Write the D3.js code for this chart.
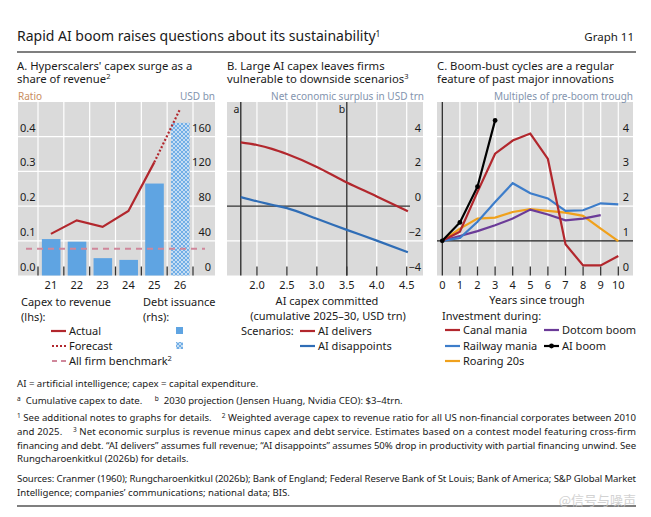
<!DOCTYPE html>
<html>
<head>
<meta charset="utf-8">
<script src="https://cdn.jsdelivr.net/npm/d3@7"></script>
<style>
  body { margin: 0; background: #fff; }
  svg { font-family: "Noto Sans", sans-serif; }
</style>
</head>
<body>
<div id="chart"></div>
<script>
// ---- panel A data: hyperscalers' capex
const yearsA = ['21', '22', '23', '24', '25', '26'];
const debtIssuance = [42, 39, 20, 18, 106, 176];        // USD bn (rhs), 26 = forecast
const capexActual = [0.12, 0.159, 0.14, 0.186, 0.326];   // ratio (lhs), 21-25
const forecastYears = ['25', '26'];
const capexForecast = [0.326, 0.48];
const benchmark = 0.077;
const ticksLeftA = [0, 0.1, 0.2, 0.3, 0.4];
const ticksRightA = [0, 40, 80, 120, 160];

// ---- panel B data: net economic surplus
const capexCommitted = [1.73, 2.0, 2.25, 2.5, 3.0, 3.5, 4.0, 4.52];
const aiDelivers = [3.67, 3.52, 3.3, 3.0, 2.26, 1.36, 0.56, -0.3];
const aiDisappoints = [0.52, 0.28, 0.08, -0.12, -0.73, -1.37, -1.99, -2.66];
const markA = 1.73, markB = 3.5;
const ticksXB = [2.0, 2.5, 3.0, 3.5, 4.0, 4.5];
const ticksYB = [-4, -2, 0, 2, 4];

// ---- panel C data: multiples of pre-boom trough
const yearsC = [0, 1, 2, 3, 4, 5, 6, 7, 8, 9, 10];
const canalMania = [1, 1.26, 2.41, 3.51, 3.89, 4.09, 3.36, 0.9, 0.29, 0.29, 0.56];
const railwayMania = [1, 1.08, 1.55, 2.12, 2.66, 2.37, 2.22, 1.86, 1.88, 2.08, 2.05];
const roaring20s = [1, 1.35, 1.64, 1.67, 1.83, 1.91, 1.86, 1.81, 1.72, 1.35, 0.99];
const dotcomBoom = [1, 1.14, 1.28, 1.45, 1.64, 1.9, 1.76, 1.59, 1.64, 1.74];
const aiBoom = [1, 1.53, 2.56, 4.47];
const ticksYC = [0, 1, 2, 3, 4];

const red = '#b2272d', barBlue = '#5fa4e2', bg = '#dadada';
const unitGrey = '#8394ae';
const fsPanel = 11;   // legend / axis text

const W = 651, H = 517;
const plotTop = 102, plotBottom = 275.5;

const svg = d3.select('#chart').append('svg')
  .attr('width', W).attr('height', H);

svg.append('rect').attr('width', W).attr('height', H).attr('fill', '#fff');

// pattern for forecast bar
const defs = svg.append('defs');
const pat = defs.append('pattern').attr('id', 'dots')
  .attr('width', 4).attr('height', 4).attr('patternUnits', 'userSpaceOnUse');
pat.append('rect').attr('width', 4).attr('height', 4).attr('fill', '#6fade6');
[[0, 0], [4, 0], [0, 4], [4, 4], [2, 2]].forEach(([x, y]) => {
  pat.append('circle').attr('cx', x).attr('cy', y).attr('r', 1.1).attr('fill', '#dbe9f7');
});

// helper for text
function txt(g, x, y, s, opts = {}) {
  return g.append('text').attr('x', x).attr('y', y)
    .attr('font-size', opts.size || fsPanel)
    .attr('fill', opts.fill || '#1a1a1a')
    .attr('text-anchor', opts.anchor || 'start')
    .text(s);
}
function sup(t, s, size) {
  t.append('tspan').attr('dy', -4).attr('font-size', size || 7.5).text(s);
}

// ---- header
const title = txt(svg, 17, 41, 'Rapid AI boom raises questions about its sustainability', { size: 14 });
sup(title, '1', 8.5);
txt(svg, 634, 41, 'Graph 11', { size: 11.5, anchor: 'end' });
svg.append('line').attr('x1', 17).attr('x2', 636).attr('y1', 52).attr('y2', 52)
  .attr('stroke', '#000').attr('stroke-width', 1.2);

// panel titles
const fsTitle = 11.3;
txt(svg, 17, 70, "A. Hyperscalers' capex surge as a", { size: fsTitle });
sup(txt(svg, 17, 83, 'share of revenue', { size: fsTitle }), '2');
txt(svg, 227, 70, 'B. Large AI capex leaves firms', { size: fsTitle });
sup(txt(svg, 227, 83, 'vulnerable to downside scenarios', { size: fsTitle }), '3');
txt(svg, 437, 70, 'C. Boom-bust cycles are a regular', { size: fsTitle });
txt(svg, 437, 83, 'feature of past major innovations', { size: fsTitle });

// ================= PANEL A =================
const gA = svg.append('g');
const ax0 = 18, ax1 = 215;
gA.append('rect').attr('x', ax0).attr('y', plotTop).attr('width', ax1 - ax0).attr('height', plotBottom - plotTop).attr('fill', bg);

const xA = d3.scaleBand().domain(yearsA).range([38, 193]).padding(0);
const yL = d3.scaleLinear().domain([0, 0.5]).range([plotBottom, plotTop]);
const yR = d3.scaleLinear().domain([0, 200]).range([plotBottom, plotTop]);

// grid
gA.selectAll('.hg').data(ticksLeftA.slice(1)).join('line')
  .attr('x1', ax0).attr('x2', ax1).attr('y1', d => yL(d)).attr('y2', d => yL(d))
  .attr('stroke', '#fff').attr('stroke-width', 1.2);
const binEdges = yearsA.map(d => xA(d)).concat([xA.range()[1]]);
gA.selectAll('.vg').data(binEdges).join('line')
  .attr('x1', d => d).attr('x2', d => d).attr('y1', plotTop).attr('y2', plotBottom)
  .attr('stroke', '#fff').attr('stroke-width', 1.2);

// bars
gA.selectAll('.bar').data(yearsA).join('rect')
  .attr('x', d => xA(d) + xA.bandwidth() * 0.15)
  .attr('width', xA.bandwidth() * 0.72)
  .attr('y', (d, i) => yR(debtIssuance[i]))
  .attr('height', (d, i) => plotBottom - yR(debtIssuance[i]))
  .attr('fill', (d, i) => i === yearsA.length - 1 ? 'url(#dots)' : barBlue);

// benchmark
gA.append('line').attr('x1', 26).attr('x2', 205)
  .attr('y1', yL(benchmark)).attr('y2', yL(benchmark))
  .attr('stroke', '#d0879b').attr('stroke-width', 2).attr('stroke-dasharray', '6,5');

const cx = d => xA(d) + xA.bandwidth() / 2;
const lineA = d3.line().x(d => cx(d[0])).y(d => yL(d[1]));
gA.append('path').attr('d', lineA(yearsA.slice(0, 5).map((d, i) => [d, capexActual[i]])))
  .attr('fill', 'none').attr('stroke', red).attr('stroke-width', 2.2);
gA.append('path').attr('d', lineA(forecastYears.map((d, i) => [d, capexForecast[i]])))
  .attr('fill', 'none').attr('stroke', red).attr('stroke-width', 2.2).attr('stroke-dasharray', '2,2');

// x ticks
gA.selectAll('.xt').data(binEdges).join('line')
  .attr('x1', d => d).attr('x2', d => d).attr('y1', plotBottom - 9).attr('y2', plotBottom)
  .attr('stroke', '#333').attr('stroke-width', 1.3);
gA.selectAll('.xl').data(yearsA).join('text')
  .attr('x', cx).attr('y', 289).attr('text-anchor', 'middle').attr('font-size', fsPanel)
  .attr('fill', '#1a1a1a').text(d => d);

// y labels
gA.selectAll('.yl').data(ticksLeftA).join('text')
  .attr('x', 20).attr('y', d => yL(d) - 5).attr('font-size', fsPanel).attr('fill', '#1a1a1a')
  .text(d => d3.format('.1f')(d));
gA.selectAll('.yr').data(ticksRightA).join('text')
  .attr('x', 211).attr('y', d => yR(d) - 5).attr('text-anchor', 'end').attr('font-size', fsPanel)
  .attr('fill', '#1a1a1a').text(d => d);
txt(gA, 18, 100, 'Ratio', { size: 10, fill: '#c98d5e' });
txt(gA, 215, 100, 'USD bn', { size: 10, fill: unitGrey, anchor: 'end' });

// legend A
txt(gA, 21, 306, 'Capex to revenue');
txt(gA, 21, 321, '(lhs):');
txt(gA, 143, 306, 'Debt issuance');
txt(gA, 143, 321, '(rhs):');
gA.append('line').attr('x1', 51).attr('x2', 66).attr('y1', 331).attr('y2', 331).attr('stroke', red).attr('stroke-width', 2.2);
txt(gA, 69, 335, 'Actual');
gA.append('line').attr('x1', 52).attr('x2', 66).attr('y1', 346).attr('y2', 346).attr('stroke', red).attr('stroke-width', 2).attr('stroke-dasharray', '2,2');
txt(gA, 69, 350, 'Forecast');
gA.append('line').attr('x1', 52).attr('x2', 66).attr('y1', 361).attr('y2', 361).attr('stroke', '#d0879b').attr('stroke-width', 2).attr('stroke-dasharray', '5,4');
sup(txt(gA, 69, 365, 'All firm benchmark'), '2');
gA.append('rect').attr('x', 176).attr('y', 327).attr('width', 7).attr('height', 7).attr('fill', barBlue);
gA.append('rect').attr('x', 176).attr('y', 342).attr('width', 7).attr('height', 7).attr('fill', 'url(#dots)');

// ================= PANEL B =================
const gB = svg.append('g');
const bx0 = 227, bx1 = 423;
gB.append('rect').attr('x', bx0).attr('y', plotTop).attr('width', bx1 - bx0).attr('height', plotBottom - plotTop).attr('fill', bg);
const xB = d3.scaleLinear().domain([1.5, 4.5]).range([227, 406.7]);
const yB = d3.scaleLinear().domain([-4, 6]).range([plotBottom, plotTop]);

gB.selectAll('.hg').data(ticksYB.filter(d => d !== -4 && d !== 0)).join('line')
  .attr('x1', bx0).attr('x2', bx1).attr('y1', d => yB(d)).attr('y2', d => yB(d))
  .attr('stroke', '#fff').attr('stroke-width', 1.2);
gB.selectAll('.vg').data(ticksXB).join('line')
  .attr('x1', d => xB(d)).attr('x2', d => xB(d)).attr('y1', plotTop).attr('y2', plotBottom)
  .attr('stroke', '#fff').attr('stroke-width', 1.2);
gB.append('line').attr('x1', bx0).attr('x2', 410).attr('y1', yB(0)).attr('y2', yB(0))
  .attr('stroke', '#333').attr('stroke-width', 1.2);
[[markA, 'a'], [markB, 'b']].forEach(([v, l]) => {
  gB.append('line').attr('x1', xB(v)).attr('x2', xB(v)).attr('y1', plotTop).attr('y2', plotBottom)
    .attr('stroke', '#333').attr('stroke-width', 1.4);
  txt(gB, xB(v) - 1.5, 113, l, { anchor: 'end', size: 10.5 });
});

const lineB = d3.line().curve(d3.curveMonotoneX).x(d => xB(d[0])).y(d => yB(d[1]));
gB.append('path').attr('d', lineB(capexCommitted.map((d, i) => [d, aiDelivers[i]])))
  .attr('fill', 'none').attr('stroke', red).attr('stroke-width', 2.2);
gB.append('path').attr('d', lineB(capexCommitted.map((d, i) => [d, aiDisappoints[i]])))
  .attr('fill', 'none').attr('stroke', '#2f6db6').attr('stroke-width', 2.2);

gB.selectAll('.xt').data(ticksXB).join('line')
  .attr('x1', d => xB(d)).attr('x2', d => xB(d)).attr('y1', plotBottom - 9).attr('y2', plotBottom)
  .attr('stroke', '#333').attr('stroke-width', 1.3);
gB.selectAll('.xl').data(ticksXB).join('text')
  .attr('x', d => xB(d)).attr('y', 289).attr('text-anchor', 'middle').attr('font-size', fsPanel)
  .attr('fill', '#1a1a1a').text(d => d3.format('.1f')(d));
gB.selectAll('.yr').data(ticksYB).join('text')
  .attr('x', 421).attr('y', d => yB(d) - 5).attr('text-anchor', 'end').attr('font-size', fsPanel)
  .attr('fill', '#1a1a1a').text(d => d < 0 ? '\u2212' + Math.abs(d) : d);
txt(gB, 424, 100, 'Net economic surplus in USD trn', { size: 10, fill: unitGrey, anchor: 'end' });

txt(gB, 327, 305, 'AI capex committed', { anchor: 'middle' });
txt(gB, 328, 320, '(cumulative 2025\u201330, USD trn)', { anchor: 'middle' });
txt(gB, 241, 335, 'Scenarios:');
gB.append('line').attr('x1', 300).attr('x2', 315).attr('y1', 331).attr('y2', 331).attr('stroke', red).attr('stroke-width', 2.2);
txt(gB, 318, 335, 'AI delivers');
gB.append('line').attr('x1', 300).attr('x2', 315).attr('y1', 346).attr('y2', 346).attr('stroke', '#2f6db6').attr('stroke-width', 2.2);
txt(gB, 318, 350, 'AI disappoints');

// ================= PANEL C =================
const gC = svg.append('g');
const cx0 = 437, cx1 = 633;
gC.append('rect').attr('x', cx0).attr('y', plotTop).attr('width', cx1 - cx0).attr('height', plotBottom - plotTop).attr('fill', bg);
const xC = d3.scaleLinear().domain([0, 10]).range([442.3, 618.3]);
const yC = d3.scaleLinear().domain([0, 5]).range([plotBottom, plotTop]);

gC.selectAll('.hg').data([2, 3, 4]).join('line')
  .attr('x1', cx0).attr('x2', cx1).attr('y1', d => yC(d)).attr('y2', d => yC(d))
  .attr('stroke', '#fff').attr('stroke-width', 1.2);
gC.selectAll('.vg').data(yearsC.slice(1)).join('line')
  .attr('x1', d => xC(d)).attr('x2', d => xC(d)).attr('y1', plotTop).attr('y2', plotBottom)
  .attr('stroke', '#fff').attr('stroke-width', 1.2);
gC.append('line').attr('x1', cx0).attr('x2', cx1).attr('y1', yC(1)).attr('y2', yC(1))
  .attr('stroke', '#222').attr('stroke-width', 1.2);
gC.append('line').attr('x1', xC(0)).attr('x2', xC(0)).attr('y1', plotTop).attr('y2', plotBottom)
  .attr('stroke', '#222').attr('stroke-width', 1.2);

const seriesC = [
  { name: 'Roaring 20s', values: roaring20s, color: '#f0a11c' },
  { name: 'Dotcom boom', values: dotcomBoom, color: '#6b3b98' },
  { name: 'Railway mania', values: railwayMania, color: '#3d7dca' },
  { name: 'Canal mania', values: canalMania, color: red },
  { name: 'AI boom', values: aiBoom, color: '#000' }
];
const lineC = d3.line().x((d, i) => xC(yearsC[i])).y(d => yC(d));
gC.selectAll('.ser').data(seriesC).join('path')
  .attr('d', d => lineC(d.values)).attr('fill', 'none')
  .attr('stroke', d => d.color).attr('stroke-width', 2.2);
gC.selectAll('.dot').data(aiBoom).join('circle')
  .attr('cx', (d, i) => xC(yearsC[i])).attr('cy', d => yC(d)).attr('r', 2.4).attr('fill', '#000');

gC.selectAll('.xt').data(yearsC.slice(1)).join('line')
  .attr('x1', d => xC(d)).attr('x2', d => xC(d)).attr('y1', plotBottom - 9).attr('y2', plotBottom)
  .attr('stroke', '#333').attr('stroke-width', 1.3);
gC.selectAll('.xl').data(yearsC).join('text')
  .attr('x', d => xC(d)).attr('y', 289).attr('text-anchor', 'middle').attr('font-size', fsPanel)
  .attr('fill', '#1a1a1a').text(d => d);
gC.selectAll('.yr').data(ticksYC).join('text')
  .attr('x', 629).attr('y', d => yC(d) - 5).attr('text-anchor', 'end').attr('font-size', fsPanel)
  .attr('fill', '#1a1a1a').text(d => d);
txt(gC, 633, 100, 'Multiples of pre-boom trough', { size: 10, fill: unitGrey, anchor: 'end' });

txt(gC, 537, 304, 'Years since trough', { anchor: 'middle' });
txt(gC, 442, 320, 'Investment during:');
const legC = [
  { name: 'Canal mania', color: red, x: 445, y: 330 },
  { name: 'Dotcom boom', color: '#6b3b98', x: 544, y: 330 },
  { name: 'Railway mania', color: '#3d7dca', x: 445, y: 346 },
  { name: 'AI boom', color: '#000', x: 544, y: 346, dot: true },
  { name: 'Roaring 20s', color: '#f0a11c', x: 445, y: 361 }
];
legC.forEach(d => {
  gC.append('line').attr('x1', d.x).attr('x2', d.x + 15).attr('y1', d.y).attr('y2', d.y)
    .attr('stroke', d.color).attr('stroke-width', 2.2);
  if (d.dot) gC.append('circle').attr('cx', d.x + 7.5).attr('cy', d.y).attr('r', 2.4).attr('fill', '#000');
  txt(gC, d.x + 18, d.y + 4, d.name);
});

// ================= FOOTNOTES =================
const gF = svg.append('g');
const fs = 9.6;
const notes = [
  { y: 387, parts: [['AI = artificial intelligence; capex = capital expenditure.']] },
  { y: 404, parts: [['a', true], ['  Cumulative capex to date.     '], ['b', true], ['  2030 projection (Jensen Huang, Nvidia CEO): $3\u20134trn.']] },
  { y: 421, parts: [['1', true], [' See additional notes to graphs for details.    '], ['2', true], [' Weighted average capex to revenue ratio for all US non-financial corporates between 2010']], just: true },
  { y: 435, parts: [['and 2025.    '], ['3', true], [' Net economic surplus is revenue minus capex and debt service. Estimates based on a contest model featuring cross-firm']], just: true },
  { y: 449, parts: [['financing and debt. \u201cAI delivers\u201d assumes full revenue; \u201cAI disappoints\u201d assumes 50% drop in productivity with partial financing unwind. See']], just: true },
  { y: 462, parts: [['Rungcharoenkitkul (2026b) for details.']] },
  { y: 482, parts: [['Sources: Cranmer (1960); Rungcharoenkitkul (2026b); Bank of England; Federal Reserve Bank of St Louis; Bank of America; S&P Global Market']], just: true },
  { y: 496, parts: [['Intelligence; companies\u2019 communications; national data; BIS.']] }
];
notes.forEach(n => {
  const t = gF.append('text').attr('x', 17).attr('y', n.y).attr('font-size', fs)
    .attr('fill', '#1a1a1a').attr('xml:space', 'preserve');
  let raised = false;
  n.parts.forEach(([s, isSup]) => {
    if (isSup) {
      t.append('tspan').attr('font-size', 6.5).attr('dy', -3).text(s);
      raised = true;
    } else {
      t.append('tspan').attr('dy', raised ? 3 : 0).text(s);
      raised = false;
    }
  });
  if (n.just) t.attr('textLength', 619).attr('lengthAdjust', 'spacing');
});

svg.append('line').attr('x1', 17).attr('x2', 636).attr('y1', 506).attr('y2', 506)
  .attr('stroke', '#000').attr('stroke-width', 1.2);

// watermark
svg.append('text').attr('x', 636).attr('y', 505).attr('text-anchor', 'end')
  .attr('font-family', '"Noto Sans CJK SC", sans-serif').attr('font-size', 13)
  .attr('fill', '#c8c8c8').attr('opacity', 0.8).text('@信号与噪声');
</script>
</body>
</html>
